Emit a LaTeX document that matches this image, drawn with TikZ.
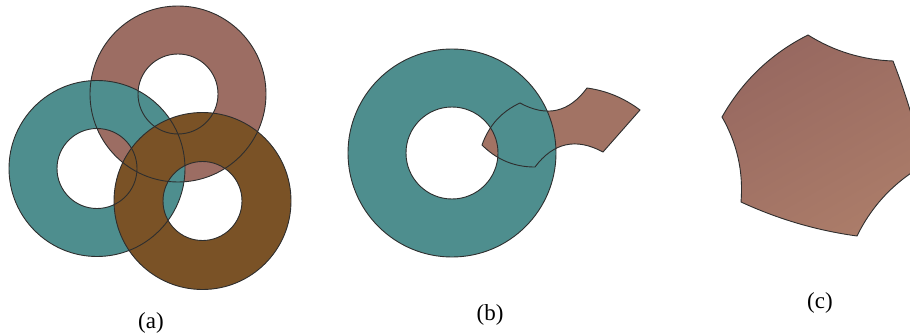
\documentclass[tikz,border=0pt]{standalone}
\usepackage{fontspec}
\setmainfont{Liberation Serif}
\definecolor{ringpink}{HTML}{9C6D63}
\definecolor{ringteal}{HTML}{4E8E8E}
\definecolor{ringbrown}{HTML}{7A5226}
\definecolor{shapepink}{HTML}{A27364}
\definecolor{hexA}{HTML}{976860}
\definecolor{hexB}{HTML}{AB7C69}
\begin{document}
\begin{tikzpicture}[x=1pt,y=-1pt,
  edge/.style={draw=black!82, line width=0.9pt},
  lab/.style={font=\fontsize{23}{27}\selectfont, inner sep=0pt}]
\useasboundingbox (0,0) rectangle (910,334);
\clip (0,0) rectangle (910,334);
% ---------- panel (a)
\fill[ringpink, even odd rule] (178,94) circle[radius=88] (178,94) circle[radius=40];
\fill[ringteal, even odd rule] (97,168.5) circle[radius=88] (97,168.5) circle[radius=40];
\fill[ringbrown, even odd rule] (202.5,201) circle[radius=88.5] (202.5,201) circle[radius=39.5];
\draw[edge] (178,94) circle[radius=88] (178,94) circle[radius=40];
\draw[edge] (97,168.5) circle[radius=88] (97,168.5) circle[radius=40];
\draw[edge] (202.5,201) circle[radius=88.5] (202.5,201) circle[radius=39.5];
% ---------- panel (b)
\def\bshape{(482,145) .. controls (488.8,125.6) and (501.4,111.6) .. (520,103)
  .. controls (546.7,117.5) and (569,112.5) .. (587,88)
  .. controls (606.6,90.7) and (624.2,98.1) .. (640,110)
  -- (603,152)
  .. controls (576,137.5) and (553.4,142.5) .. (535,167)
  .. controls (514.3,167.1) and (496.7,159.7) .. (482,145) -- cycle}
\fill[shapepink] \bshape;
\fill[ringteal, even odd rule] (452,153) circle[radius=104] (452,153) circle[radius=46];
\draw[edge] (452,153) circle[radius=104] (452,153) circle[radius=46];
\draw[edge] \bshape;
% ---------- panel (c)
\shadedraw[edge, top color=hexA, bottom color=hexB, shading angle=30]
  (722,117) .. controls (742.4,81) and (771,53.6) .. (808,35)
  .. controls (834,51.3) and (862.4,59.9) .. (893,61)
  .. controls (906.2,94.8) and (916.6,129.4) .. (924,165)
  .. controls (894.4,181.8) and (872,205.4) .. (857,236)
  .. controls (816.6,230.5) and (778,219.1) .. (741,202)
  .. controls (743.5,171.7) and (737.1,143.3) .. (722,117) -- cycle;
% ---------- labels
\node[lab] (la) at (151,323) {(a)};
\node[lab] (lb) at (490,315) {(b)};
\node[lab] (lc) at (820,303) {(c)};
\end{tikzpicture}
\end{document}
